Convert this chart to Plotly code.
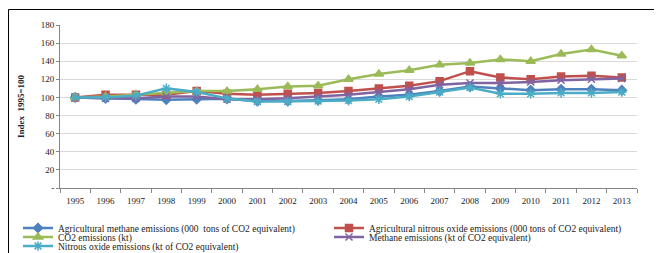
import plotly.graph_objects as go

years = [str(y) for y in range(1995, 2014)]
agri_methane = [100, 99, 98, 97.5, 98, 98.5, 96, 96, 97, 98, 101, 103, 107, 112, 110, 108, 109, 109, 108]
agri_nitrous = [100, 103, 103, 103, 107, 104, 103, 104, 105, 107, 110, 113, 118, 129, 122, 120, 123, 124, 122]
co2 = [100, 101, 103, 105, 107, 107, 109, 112, 113, 120, 126, 130, 136, 138, 142, 140, 148, 153, 146]
methane = [100, 99, 99, 101, 101, 98, 98, 99, 101, 103, 106, 109, 114, 116, 116, 117, 119, 120, 121]
nitrous = [100, 100, 102, 110, 106, 99, 95.5, 95.5, 96, 96.5, 98, 101, 106, 111, 104, 104, 105, 105, 106]

names = [
    "Agricultural methane emissions (000  tons of CO2 equivalent)",
    "Agricultural nitrous oxide emissions (000 tons of CO2 equivalent)",
    "CO2 emissions (kt)",
    "Methane emissions (kt of CO2 equivalent)",
    "Nitrous oxide emissions (kt of CO2 equivalent)",
]
y_tick_vals = [0, 20, 40, 60, 80, 100, 120, 140, 160, 180]
y_tick_text = ["-", "20", "40", "60", "80", "100", "120", "140", "160", "180"]

series = [agri_methane, agri_nitrous, co2, methane, nitrous]
colors = ["#4F81BD", "#C0504D", "#9BBB59", "#8064A2", "#4BACC6"]
symbols = ["diamond", "square", "triangle-up", "x-thin-open", "asterisk-open"]
msizes = [7, 7, 8, 7, 8]
legends = ["legend", "legend2", "legend3", "legend4", "legend5"]

OFF = 8  # page body margin
W, H = 662 - OFF, 253 - OFF
L, T = 60 - OFF, 25 - OFF
R = W - (637 - OFF)
B = H - (188 - OFF)
pw, ph = W - L - R, H - T - B

def px(sx):
    return (sx - OFF - L) / pw

def py(sy):
    return (H - B - (sy - OFF)) / ph

fig = go.Figure()
for vals, nm, c, s, ms, lg in zip(series, names, colors, symbols, msizes, legends):
    fig.add_trace(go.Scatter(
        x=years, y=vals, name=nm, mode="lines+markers",
        line=dict(color=c, width=2.5),
        marker=dict(symbol=s, size=ms, color=c, line=dict(color=c, width=1.5)),
        legend=lg,
    ))

font = dict(family="Liberation Serif, Times New Roman, serif", size=9, color="#222")
lfont = dict(family="Liberation Serif, Times New Roman, serif", size=9.5, color="#222")
leg_common = dict(font=lfont, bgcolor="rgba(0,0,0,0)", itemwidth=30,
                  xanchor="left", yanchor="middle")
lx_left, lx_right = 18, 329
legend_pos = [(lx_left, 228), (lx_right, 228), (lx_left, 237), (lx_right, 237), (lx_left, 246)]
leg_layout = {}
for lg, (lx, ly) in zip(legends, legend_pos):
    leg_layout[lg] = dict(x=px(lx), y=py(ly), **leg_common)

fig.update_layout(
    width=W, height=H,
    margin=dict(l=L, r=R, t=T, b=B, autoexpand=False),
    plot_bgcolor="white", paper_bgcolor="white",
    font=font,
    showlegend=True,
    **leg_layout,
    xaxis=dict(type="category", range=[-0.5, 18.5], showgrid=False,
               showline=True, linecolor="#868686", linewidth=1,
               ticks="outside", tickson="boundaries", ticklen=4, tickcolor="#868686",
               ticklabelstandoff=4,
               tickfont=font, zeroline=False),
    yaxis=dict(range=[0, 180], tickvals=y_tick_vals, ticktext=y_tick_text,
               showgrid=True, gridcolor="#D9D9D9", gridwidth=1,
               showline=True, linecolor="#868686", linewidth=1,
               ticks="outside", ticklen=3, tickcolor="#868686",
               tickfont=font, zeroline=False,
               title=dict(text="<b>Index  1995=100</b>", font=font, standoff=14)),
    shapes=[
        dict(type="line", xref="paper", yref="paper", x0=px(8.5), x1=px(663), y0=py(9.5), y1=py(9.5),
             line=dict(color="#000", width=1)),
        dict(type="line", xref="paper", yref="paper", x0=px(8.5), x1=px(8.5), y0=py(9.5), y1=py(254),
             line=dict(color="#000", width=1)),
    ],
)

fig.write_html("out.html")
